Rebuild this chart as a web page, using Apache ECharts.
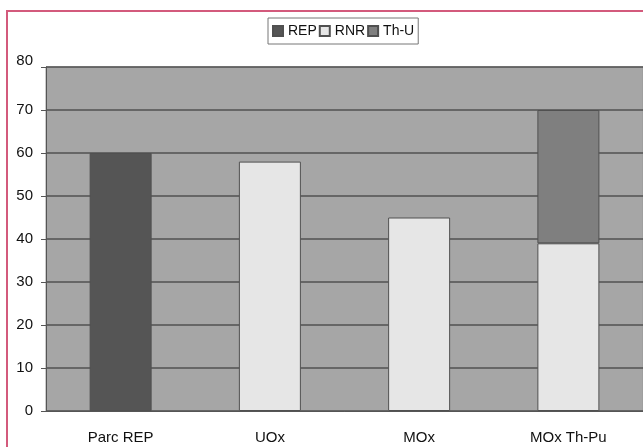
<!DOCTYPE html>
<html>
<head>
<meta charset="utf-8">
<script src="https://cdn.jsdelivr.net/npm/echarts@6/dist/echarts.min.js"></script>
<style>
  html, body { margin: 0; padding: 0; background: #fff; overflow: hidden; }
  #frame { position: absolute; left: 6px; top: 10px; width: 700px; height: 500px; border-left: 2px solid #d35a7c; border-top: 2px solid #d35a7c; }
  #chart { position: absolute; left: 0; top: 0; width: 643px; height: 447px; }
</style>
</head>
<body>
<div id="frame"></div>
<div id="chart"></div>
<script>
// donnees
var categories = ['Parc REP', 'UOx', 'MOx', 'MOx Th-Pu']
var repValues = [60, '-', '-', '-']
var rnrValues = ['-', 58, 45, 39]
var thuValues = ['-', '-', '-', 31]
var yTicks = [0, 10, 20, 30, 40, 50, 60, 70, 80]

var chart = echarts.init(document.getElementById('chart'))
var barStyle = function (color) {
    return { color: color, borderColor: '#505050', borderWidth: 1 }
}
var yMax = yTicks[yTicks.length - 1]
chart.setOption({
    animation: false,
    textStyle: { fontFamily: 'Liberation Sans' },
    legend: {
        left: 268,
        top: 18,
        itemGap: 2,
        itemWidth: 10,
        itemHeight: 10,
        padding: [6, 4, 6, 4],
        borderColor: '#777',
        borderWidth: 1,
        backgroundColor: '#fff',
        textStyle: { fontSize: 14, color: '#111' },
        data: [
            { name: 'REP', icon: 'rect' },
            { name: 'RNR', icon: 'rect' },
            { name: 'Th-U', icon: 'rect' }
        ]
    },
    grid: {
        left: 46,
        top: 67,
        right: -7,
        bottom: 36,
        show: true,
        backgroundColor: '#a6a6a6',
        borderColor: '#999',
        borderWidth: 1
    },
    xAxis: {
        type: 'category',
        data: categories,
        axisLine: { lineStyle: { color: '#555', width: 1 } },
        axisTick: { length: 5, lineStyle: { color: '#555' } },
        axisLabel: { fontSize: 15, color: '#111', margin: 19 }
    },
    yAxis: {
        type: 'value',
        min: yTicks[0],
        max: yMax,
        interval: 10,
        axisLine: { show: true, lineStyle: { color: '#555', width: 1 } },
        axisTick: { show: true, length: 5, lineStyle: { color: '#555' } },
        axisLabel: {
            fontSize: 15, color: '#111', margin: 13,
            formatter: function (v) { return v === yMax ? '{top|' + v + '}' : String(v) },
            rich: { top: { fontSize: 15, color: '#111', padding: [0, 0, 12, 0] } }
        },
        splitLine: { lineStyle: { color: '#505050', width: 1.5 } }
    },
    series: [
        { name: 'REP', type: 'bar', stack: 'tot', barWidth: 62, itemStyle: barStyle('#555555'), data: repValues },
        { name: 'RNR', type: 'bar', stack: 'tot', barWidth: 62, itemStyle: barStyle('#e6e6e6'), data: rnrValues },
        { name: 'Th-U', type: 'bar', stack: 'tot', barWidth: 62, itemStyle: barStyle('#7f7f7f'), data: thuValues }
    ]
})
</script>
</body>
</html>
